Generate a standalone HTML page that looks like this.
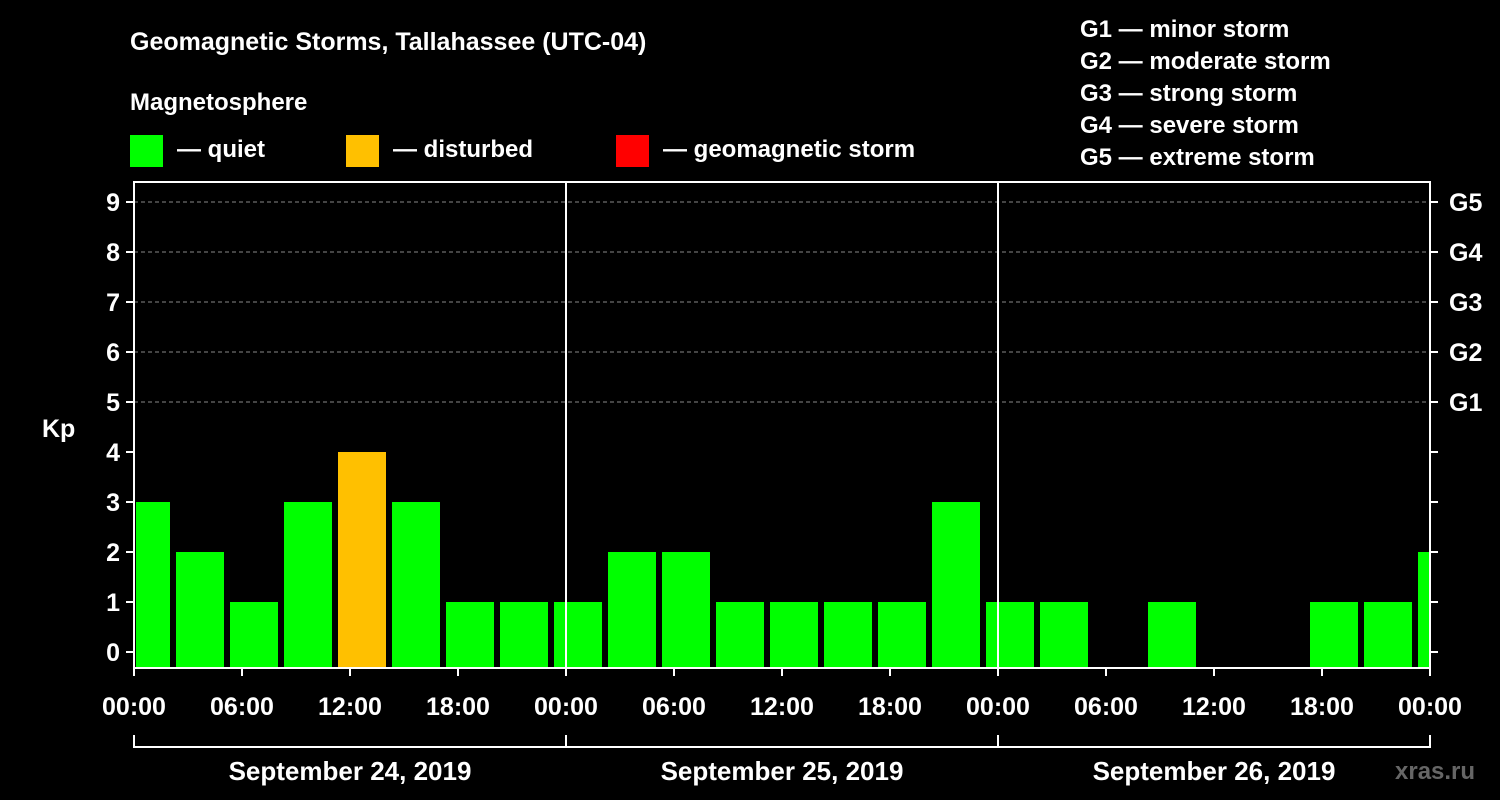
<!DOCTYPE html>
<html><head><meta charset="utf-8"><style>
body{margin:0;background:#000;}
svg{display:block;font-family:"Liberation Sans",Arial,sans-serif;font-weight:bold;}
</style></head><body>
<svg id="c" width="1500" height="800" viewBox="0 0 1500 800">
<rect width="1500" height="800" fill="#000"/>
<text x="130" y="50" fill="#fff" font-size="25">Geomagnetic Storms, Tallahassee (UTC-04)</text>
<text x="130" y="110" fill="#fff" font-size="24">Magnetosphere</text>
<g><rect x="130" y="135" width="33" height="32" fill="#00ff00"/><text x="177" y="157" fill="#fff" font-size="24">— quiet</text></g>
<g><rect x="346" y="135" width="33" height="32" fill="#ffc000"/><text x="393" y="157" fill="#fff" font-size="24">— disturbed</text></g>
<g><rect x="616" y="135" width="33" height="32" fill="#ff0000"/><text x="663" y="157" fill="#fff" font-size="24">— geomagnetic storm</text></g>
<g fill="#fff" font-size="24">
<text x="1080" y="37">G1 — minor storm</text><text x="1080" y="69">G2 — moderate storm</text><text x="1080" y="101">G3 — strong storm</text><text x="1080" y="133">G4 — severe storm</text><text x="1080" y="165">G5 — extreme storm</text></g>
<text x="42" y="437" fill="#fff" font-size="25">Kp</text>
<text x="1395" y="779" fill="#666" font-size="24">xras.ru</text>
<g id="plot"></g>
</svg>
<script>
const values = [3,2,1,3,4,3,1,1, 1,2,2,1,1,1,1,3, 1,1,0,1,0,0,1,1, 2];
const yTicks = [0,1,2,3,4,5,6,7,8,9];
const gLabels = ["G1","G2","G3","G4","G5"];
const xLabels = ["00:00","06:00","12:00","18:00"];
const days = ["September 24, 2019","September 25, 2019","September 26, 2019"];
const NS="http://www.w3.org/2000/svg";
const L=134,R=1430,T=182,B=668,dayW=432;
const y=v=>652-50*v;
const x=h=>L+h*(dayW/24);
const g=document.getElementById('plot');
function mk(t,a,p){const e=document.createElementNS(NS,t);for(const k in a)e.setAttribute(k,a[k]);(p||g).appendChild(e);return e;}
// grid
for(let v=5;v<=9;v++){const l=mk('line',{x1:L,x2:R,y1:y(v),y2:y(v),stroke:'#888','stroke-dasharray':'4,3','stroke-width':1});

}
// bars
values.forEach((v,i)=>{ if(v<=0)return;
 let x0=x(i*3)-12, x1=x0+48; x0=Math.max(x0,L+2); x1=Math.min(x1,R);
 const col=v>=5?'#ff0000':(v>=4?'#ffc000':'#00ff00');
 const r=mk('rect',{x:x0,y:y(v),width:x1-x0,height:B-y(v),fill:col});
 
 });
// frame & day separators
const f=mk('rect',{x:L,y:T,width:R-L,height:B-T,fill:'none',stroke:'#fff','stroke-width':2});


for(let d=1;d<3;d++){const s=mk('line',{x1:L+d*dayW,x2:L+d*dayW,y1:T,y2:B,stroke:'#fff','stroke-width':2});

}
// y ticks
yTicks.forEach(v=>{
 mk('line',{x1:L-8,x2:L,y1:y(v),y2:y(v),stroke:'#fff','stroke-width':2});
 mk('line',{x1:R,x2:R+8,y1:y(v),y2:y(v),stroke:'#fff','stroke-width':2});
 const t=mk('text',{x:L-14,y:y(v)+9,fill:'#fff','font-size':25,'text-anchor':'end'});t.textContent=v;
 
 
 if(v>=5){const gt=mk('text',{x:R+19,y:y(v)+9,fill:'#fff','font-size':25});gt.textContent=gLabels[v-5];
 
 }
});
// x ticks
for(let h=0;h<=72;h+=6){
 mk('line',{x1:x(h),x2:x(h),y1:B,y2:B+8,stroke:'#fff','stroke-width':2});
 const t=mk('text',{x:x(h),y:715,fill:'#fff','font-size':25,'text-anchor':'middle'});t.textContent=xLabels[(h/6)%4];
 
 
}
// date bracket
mk('line',{x1:L,x2:R,y1:747,y2:747,stroke:'#fff','stroke-width':2});
for(let d=0;d<=3;d++)mk('line',{x1:L+d*dayW,x2:L+d*dayW,y1:735,y2:748,stroke:'#fff','stroke-width':2});
days.forEach((s,d)=>{const t=mk('text',{x:L+d*dayW+dayW/2,y:780,fill:'#fff','font-size':26,'text-anchor':'middle'});t.textContent=s;
 
 });
</script>
</body></html>
